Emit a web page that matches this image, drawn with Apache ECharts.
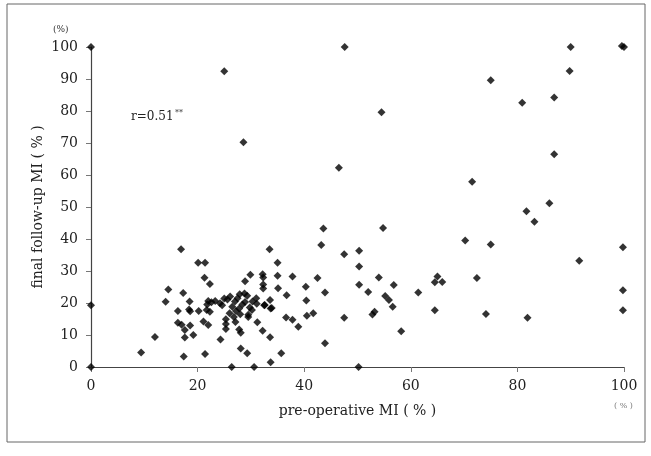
<!DOCTYPE html>
<html>
<head>
<meta charset="utf-8">
<script src="https://cdn.jsdelivr.net/npm/echarts@6/dist/echarts.min.js"></script>
<style>html,body{margin:0;padding:0;background:#fff;}#c{width:651px;height:456px;}</style>
</head>
<body>
<div id="c"></div>
<script>
// pre-operative MI (%)
const preMI = [
 0,25,28.6,47.6,46.5,90,100,99.6,89.8,75,80.9,86.9,54.5,86.9,71.5,86,81.7,83.2,54.8,43.6,43.2,16.9,33.5,
 47.5,50.3,50.3,40.3,42.5,43.9,50.3,54,56.8,52,55.2,55.9,56.6,61.4,40.4,40.5,41.7,47.5,52.8,53.2,58.2,43.9,38.9,50.2,
 70.2,75,99.8,91.6,65,64.5,65.9,72.4,99.8,64.5,74.1,81.9,99.8,
 0,14.5,14,17.3,18.5,16.3,18.4,18.6,20.2,16.3,17,18.6,17.6,17.6,19.2,12,9.4,17.4,0,
 20.1,21.4,35,21.3,22.3,29.9,28.9,32.2,32.3,32.3,32.3,35,37.8,35.1,36.7,33.6,32.5,33.9,31.1,29.8,30.2,29.5,29.5,27.9,28.8,29.3,
 26.1,25.6,25,24.2,24.6,23.3,22,22.6,21.8,22.3,21.7,21.1,22,25.3,25.3,25.3,27.1,27.8,28.1,31.2,32.2,33.6,24.3,36.6,37.8,
 28.1,29.3,21.4,35.7,33.7,26.4,30.6,
 26.5,27.2,27.8,28.4,28.9,27,26,28,30.3,31,27.5,26.8,33.7,32.6
];
// final follow-up MI (%)
const finalMI = [
 100,92.4,70.2,100,62.3,100,100,100.3,92.5,89.6,82.6,84.2,79.6,66.5,57.9,51.2,48.7,45.4,43.4,43.3,38.1,36.8,36.8,
 35.2,36.3,31.4,25.1,27.8,23.3,25.7,28,25.6,23.4,22.2,20.9,18.8,23.3,20.8,16,16.8,15.4,16.4,17.3,11.2,7.4,12.6,0,
 39.5,38.3,37.4,33.2,28.3,26.5,26.6,27.8,24,17.7,16.6,15.4,17.7,
 19.3,24.2,20.4,23.1,20.5,17.5,18,17.4,17.5,13.8,13.2,13,11.6,9.2,10,9.4,4.5,3.3,0,
 32.6,32.6,32.6,27.9,25.9,28.8,26.8,29,28,25.8,24.5,28.5,28.3,24.6,22.4,20.9,19.3,18.4,19.8,18.6,17.8,16.3,15.6,22.7,23,22.3,
 22,21.1,21.4,19.9,19.3,20.6,20.6,20.2,19.5,17.3,17.8,14.2,13.1,14.9,13.4,11.9,14.1,11.7,10.7,14,11.3,9.3,8.6,15.5,14.8,
 5.8,4.3,4.1,4.3,1.5,0,0,
 18.8,17.5,18.3,19.5,20.3,20.5,16.8,16.5,20.5,21.5,21.5,15.6,18.3,19.4
];
const xTicks = [0,20,40,60,80,100];
const yTicks = [0,10,20,30,40,50,60,70,80,90,100];

const pts = preMI.map((x,i)=>[x, finalMI[i]]);
const serif = '"DejaVu Serif", "Liberation Serif", serif';
const chart = echarts.init(document.getElementById('c'), null, {renderer:'canvas'});
chart.setOption({
  animation:false,
  backgroundColor:'#fff',
  grid:{left:91,right:27,top:47,bottom:89,containLabel:false},
  xAxis:{
    type:'value',min:0,max:100,interval:20,
    axisLine:{show:true,onZero:false,lineStyle:{color:'#444',width:1.2}},
    axisTick:{show:true,length:5,inside:false,lineStyle:{color:'#777'}},
    splitLine:{show:false},
    axisLabel:{color:'#222',fontFamily:serif,fontSize:14,margin:12,
      formatter:v=>xTicks.includes(v)?String(v):''},
    name:'pre-operative MI ( % )',nameLocation:'middle',nameGap:37,nameMoveOverlap:false,
    nameTextStyle:{color:'#222',fontFamily:serif,fontSize:14}
  },
  yAxis:{
    type:'value',min:0,max:100,interval:10,
    axisLine:{show:true,onZero:false,lineStyle:{color:'#444',width:1.2}},
    axisTick:{show:true,length:5,lineStyle:{color:'#777'}},
    splitLine:{show:false},
    axisLabel:{color:'#222',fontFamily:serif,fontSize:14,margin:13,
      formatter:v=>yTicks.includes(v)?String(v):''},
    name:'final follow-up MI ( % )',nameLocation:'middle',nameGap:46,nameRotate:90,nameMoveOverlap:false,
    nameTextStyle:{color:'#222',fontFamily:serif,fontSize:14}
  },
  graphic:[
    {type:'rect',shape:{x:7,y:4,width:638,height:438},style:{fill:'none',stroke:'#666',lineWidth:1},silent:true},
    {type:'text',left:53,top:25,style:{text:'(%)',fill:'#333',font:'9px '+serif}},
    {type:'text',left:614,top:402,style:{text:'( % )',fill:'#777',font:'8px '+serif}},
    {type:'text',left:131,top:111,style:{text:'r=0.51',fill:'#222',font:'12px '+serif}},
    {type:'text',left:175,top:109,style:{text:'**',fill:'#222',font:'8px '+serif}}
  ],
  series:[{
    type:'scatter',data:pts,symbol:'diamond',symbolSize:8,clip:false,
    itemStyle:{color:'#000'}
  }]
});
</script>
</body>
</html>
